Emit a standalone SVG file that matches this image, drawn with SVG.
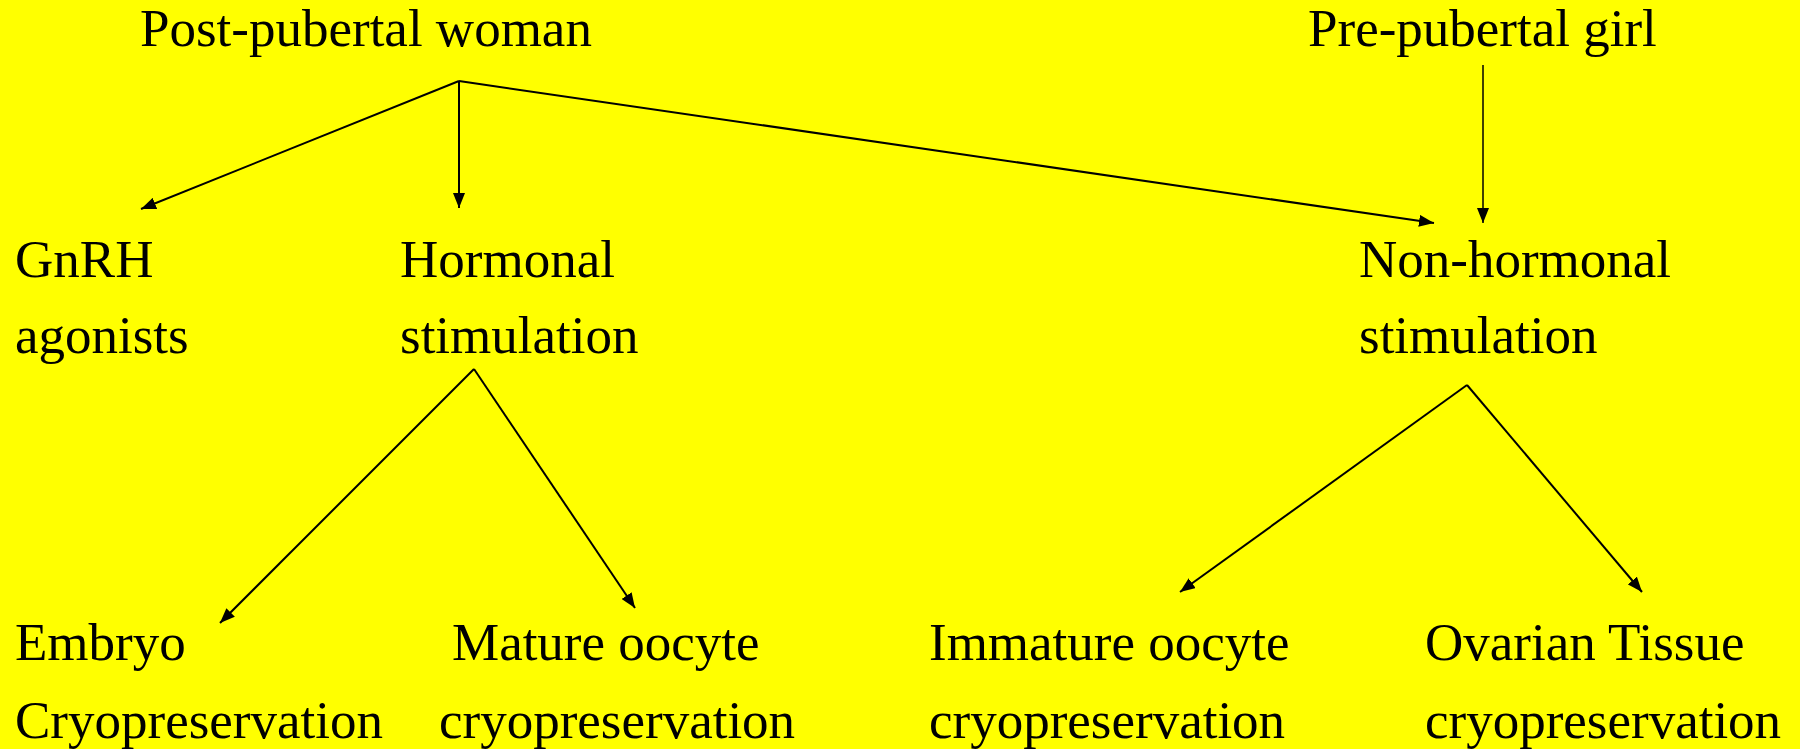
<svg xmlns="http://www.w3.org/2000/svg" width="1800" height="749" viewBox="0 0 1800 749">
<defs>
<style>
.t{font-family:"Liberation Serif","Times New Roman",serif;font-size:53px;fill:#000}
.c{stroke:#000;stroke-width:2;fill:none;marker-end:url(#ah)}
</style>
<marker id="ah" markerWidth="15" markerHeight="12" refX="15" refY="6" orient="auto" markerUnits="userSpaceOnUse"><path d="M0,0 L15,6 L0,12 Z" fill="#000"/></marker>
</defs>
<rect width="1800" height="749" fill="#FFFF00"/>
<g id="connectors">
<line class="c" x1="459" y1="81" x2="141" y2="209"/>
<line class="c" x1="459" y1="81" x2="459" y2="208"/>
<line class="c" x1="459" y1="81" x2="1434" y2="223"/>
<line class="c" x1="1483" y1="65" x2="1483" y2="223" style="stroke-width:1.5"/>
<line class="c" x1="474" y1="369" x2="220" y2="623"/>
<line class="c" x1="474" y1="369" x2="635" y2="608"/>
<line class="c" x1="1467" y1="385" x2="1180" y2="592"/>
<line class="c" x1="1467" y1="385" x2="1642" y2="592"/>
</g>
<g id="post-pubertal"><text class="t" x="140" y="46">Post-pubertal woman</text></g>
<g id="pre-pubertal"><text class="t" x="1308" y="46">Pre-pubertal girl</text></g>
<g id="gnrh"><text class="t" x="15" y="277">GnRH</text><text class="t" x="15" y="353">agonists</text></g>
<g id="hormonal"><text class="t" x="400" y="277">Hormonal</text><text class="t" x="400" y="353">stimulation</text></g>
<g id="non-hormonal"><text class="t" x="1359" y="277">Non-hormonal</text><text class="t" x="1359" y="353">stimulation</text></g>
<g id="embryo"><text class="t" x="15" y="660">Embryo</text><text class="t" x="15" y="738">Cryopreservation</text></g>
<g id="mature"><text class="t" x="452" y="660">Mature oocyte</text><text class="t" x="439" y="738">cryopreservation</text></g>
<g id="immature"><text class="t" x="929" y="660">Immature oocyte</text><text class="t" x="929" y="738">cryopreservation</text></g>
<g id="ovarian"><text class="t" x="1425" y="660">Ovarian Tissue</text><text class="t" x="1425" y="738">cryopreservation</text></g>
</svg>
